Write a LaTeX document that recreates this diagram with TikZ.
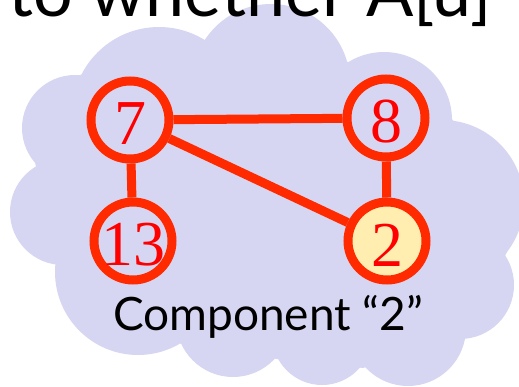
\documentclass[tikz,border=0pt]{standalone}
\usepackage{fontspec}
\setmainfont{Lato}
\newfontfamily\digitfont{Liberation Serif}
\definecolor{cloudc}{HTML}{D6D6F2}
\definecolor{edgec}{HTML}{FF2A00}
\definecolor{digitc}{HTML}{FF0000}
\definecolor{hilite}{HTML}{FFEEB0}
\begin{document}
\begin{tikzpicture}[x=1pt,y=-1pt,
  vnode/.style={circle, draw=edgec, line width=9pt, minimum size=78pt, inner sep=0pt},
  digit/.style={inner sep=0pt, text=digitc, font=\digitfont\fontsize{64}{64}\selectfont},
  link/.style={draw=edgec, line width=9pt},
  caption/.style={inner sep=0pt, text=black}]
\useasboundingbox (0,0) rectangle (519,386);
\clip (0,0) rectangle (519,386);
% cloud
\fill[cloudc] (35,162) -- (80,75) -- (205,40) -- (348,62) -- (453,120) -- (507,252)
  -- (463,338) -- (363,368) -- (277,359) -- (177,343) -- (55,260) -- cycle;
\fill[cloudc] (75,128) circle[radius=53];
\fill[cloudc] (63,212) circle[radius=53];
\fill[cloudc] (138,272) circle[radius=83];
\fill[cloudc] (233,320) circle[radius=57];
\fill[cloudc] (322,335) circle[radius=50];
\fill[cloudc] (408,328) circle[radius=58];
\fill[cloudc] (460,285) circle[radius=54];
\fill[cloudc] (442,202) circle[radius=82];
\fill[cloudc] (384,120) circle[radius=68];
\fill[cloudc] (271,83) circle[radius=79];
\fill[cloudc] (159,114) circle[radius=87];
% title (cut off)
\node[caption, anchor=base west, font=\fontsize{70}{70}\selectfont] (title) at (8,16) {to whether A[u]};
% nodes
\node[vnode] (n7) at (130,120) {};
\node[vnode] (n8) at (386,118) {};
\node[vnode] (n13) at (133,241) {};
\node[vnode, fill=hilite] (n2) at (387,241) {};
\draw[link] (n7) -- (n8);
\draw[link] (n7) -- (n13);
\draw[link] (n7) -- (n2);
\draw[link] (n8) -- (n2);
\node[digit] (l7) at ([yshift=-4pt]n7.center) {7};
\node[digit] (l8) at ([yshift=-4pt]n8.center) {8};
\node[digit] (l13) at ([yshift=-4pt]n13.center) {13};
\node[digit] (l2) at ([yshift=-4pt]n2.center) {2};
\node[caption, anchor=base, font=\fontsize{46}{46}\selectfont] (cap) at (268,330) {Component “2”};
\end{tikzpicture}
\end{document}
